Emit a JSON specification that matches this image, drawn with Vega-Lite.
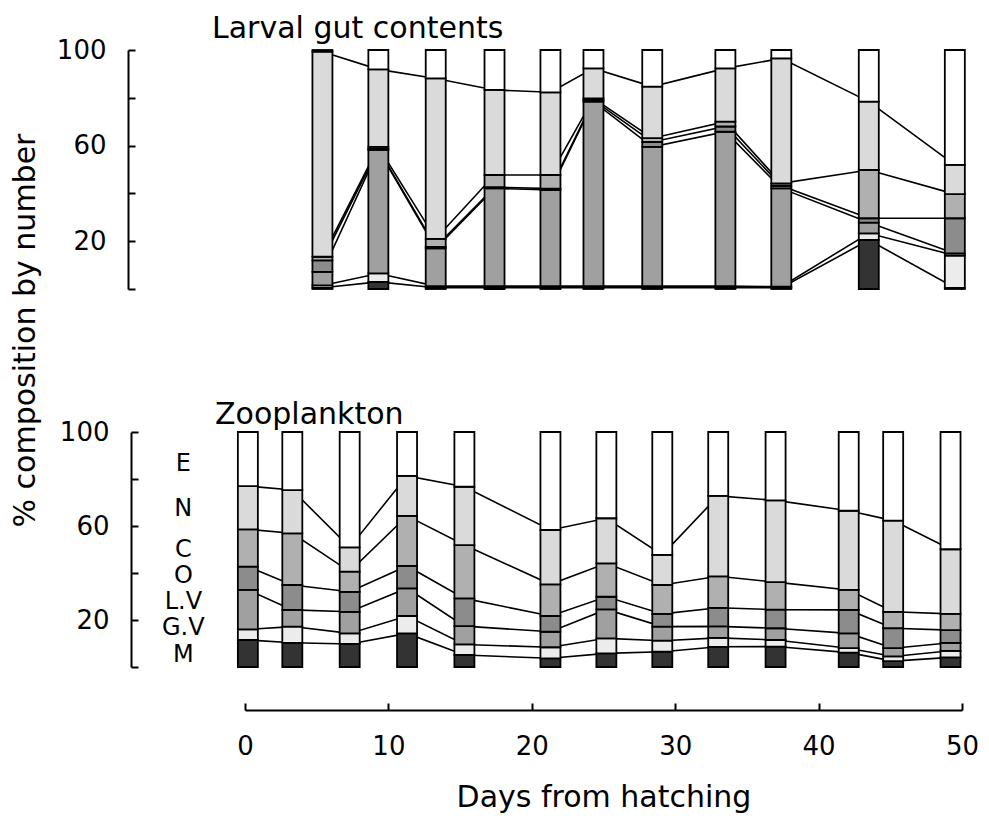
{
  "$schema": "https://vega.github.io/schema/vega-lite/v6.json",
  "background": "white",
  "padding": {"left": 10, "top": 14, "right": 20, "bottom": 5},
  "bounds": "flush",
  "spacing": 143,
  "config": {
    "font": "DejaVu Sans",
    "view": {"stroke": null},
    "axis": {
      "grid": false, "domainColor": "black", "domainWidth": 2, "tickColor": "black", "tickWidth": 2,
      "labelColor": "black", "titleColor": "black", "labelFont": "DejaVu Sans", "labelFontSize": 26,
      "titleFont": "DejaVu Sans", "titleFontSize": 30, "titleFontWeight": "normal"
    }
  },
  "datasets": {
    "gut": [
      {"day": 5.4, "cat": "M", "lo": 0, "hi": 0.5}, {"day": 5.4, "cat": "GV", "lo": 0.5, "hi": 1.5}, {"day": 5.4, "cat": "LV", "lo": 1.5, "hi": 7.2}, {"day": 5.4, "cat": "O", "lo": 7.2, "hi": 12.0}, {"day": 5.4, "cat": "C", "lo": 12.0, "hi": 13.5}, {"day": 5.4, "cat": "N", "lo": 13.5, "hi": 99.3}, {"day": 5.4, "cat": "E", "lo": 99.3, "hi": 100},
      {"day": 9.3, "cat": "M", "lo": 0, "hi": 3.0}, {"day": 9.3, "cat": "GV", "lo": 3.0, "hi": 6.5}, {"day": 9.3, "cat": "LV", "lo": 6.5, "hi": 58.2}, {"day": 9.3, "cat": "O", "lo": 58.2, "hi": 58.6}, {"day": 9.3, "cat": "C", "lo": 58.6, "hi": 59.5}, {"day": 9.3, "cat": "N", "lo": 59.5, "hi": 91.9}, {"day": 9.3, "cat": "E", "lo": 91.9, "hi": 100},
      {"day": 13.3, "cat": "M", "lo": 0, "hi": 0.5}, {"day": 13.3, "cat": "GV", "lo": 0.5, "hi": 1.2}, {"day": 13.3, "cat": "LV", "lo": 1.2, "hi": 17.0}, {"day": 13.3, "cat": "O", "lo": 17.0, "hi": 17.6}, {"day": 13.3, "cat": "C", "lo": 17.6, "hi": 21.0}, {"day": 13.3, "cat": "N", "lo": 21.0, "hi": 88.1}, {"day": 13.3, "cat": "E", "lo": 88.1, "hi": 100},
      {"day": 17.4, "cat": "M", "lo": 0, "hi": 0.5}, {"day": 17.4, "cat": "GV", "lo": 0.5, "hi": 1.2}, {"day": 17.4, "cat": "LV", "lo": 1.2, "hi": 42.1}, {"day": 17.4, "cat": "O", "lo": 42.1, "hi": 42.6}, {"day": 17.4, "cat": "C", "lo": 42.6, "hi": 47.7}, {"day": 17.4, "cat": "N", "lo": 47.7, "hi": 83.3}, {"day": 17.4, "cat": "E", "lo": 83.3, "hi": 100},
      {"day": 21.3, "cat": "M", "lo": 0, "hi": 0.5}, {"day": 21.3, "cat": "GV", "lo": 0.5, "hi": 1.2}, {"day": 21.3, "cat": "LV", "lo": 1.2, "hi": 41.4}, {"day": 21.3, "cat": "O", "lo": 41.4, "hi": 42.0}, {"day": 21.3, "cat": "C", "lo": 42.0, "hi": 47.7}, {"day": 21.3, "cat": "N", "lo": 47.7, "hi": 82.3}, {"day": 21.3, "cat": "E", "lo": 82.3, "hi": 100},
      {"day": 24.3, "cat": "M", "lo": 0, "hi": 0.5}, {"day": 24.3, "cat": "GV", "lo": 0.5, "hi": 1.2}, {"day": 24.3, "cat": "LV", "lo": 1.2, "hi": 78.4}, {"day": 24.3, "cat": "O", "lo": 78.4, "hi": 79.0}, {"day": 24.3, "cat": "C", "lo": 79.0, "hi": 79.8}, {"day": 24.3, "cat": "N", "lo": 79.8, "hi": 92.3}, {"day": 24.3, "cat": "E", "lo": 92.3, "hi": 100},
      {"day": 28.4, "cat": "M", "lo": 0, "hi": 0.5}, {"day": 28.4, "cat": "GV", "lo": 0.5, "hi": 1.2}, {"day": 28.4, "cat": "LV", "lo": 1.2, "hi": 59.5}, {"day": 28.4, "cat": "O", "lo": 59.5, "hi": 61.5}, {"day": 28.4, "cat": "C", "lo": 61.5, "hi": 63.1}, {"day": 28.4, "cat": "N", "lo": 63.1, "hi": 84.7}, {"day": 28.4, "cat": "E", "lo": 84.7, "hi": 100},
      {"day": 33.5, "cat": "M", "lo": 0, "hi": 0.5}, {"day": 33.5, "cat": "GV", "lo": 0.5, "hi": 1.2}, {"day": 33.5, "cat": "LV", "lo": 1.2, "hi": 65.8}, {"day": 33.5, "cat": "O", "lo": 65.8, "hi": 68.0}, {"day": 33.5, "cat": "C", "lo": 68.0, "hi": 70.0}, {"day": 33.5, "cat": "N", "lo": 70.0, "hi": 92.3}, {"day": 33.5, "cat": "E", "lo": 92.3, "hi": 100},
      {"day": 37.4, "cat": "M", "lo": 0, "hi": 0.5}, {"day": 37.4, "cat": "GV", "lo": 0.5, "hi": 1.0}, {"day": 37.4, "cat": "LV", "lo": 1.0, "hi": 42.1}, {"day": 37.4, "cat": "O", "lo": 42.1, "hi": 43.2}, {"day": 37.4, "cat": "C", "lo": 43.2, "hi": 44.2}, {"day": 37.4, "cat": "N", "lo": 44.2, "hi": 96.5}, {"day": 37.4, "cat": "E", "lo": 96.5, "hi": 100},
      {"day": 43.5, "cat": "M", "lo": 0, "hi": 20.5}, {"day": 43.5, "cat": "GV", "lo": 20.5, "hi": 23.3}, {"day": 43.5, "cat": "LV", "lo": 23.3, "hi": 27.8}, {"day": 43.5, "cat": "O", "lo": 27.8, "hi": 29.6}, {"day": 43.5, "cat": "C", "lo": 29.6, "hi": 49.8}, {"day": 43.5, "cat": "N", "lo": 49.8, "hi": 78.4}, {"day": 43.5, "cat": "E", "lo": 78.4, "hi": 100},
      {"day": 49.5, "cat": "M", "lo": 0, "hi": 0.5}, {"day": 49.5, "cat": "GV", "lo": 0.5, "hi": 14.0}, {"day": 49.5, "cat": "LV", "lo": 14.0, "hi": 14.9}, {"day": 49.5, "cat": "O", "lo": 14.9, "hi": 29.6}, {"day": 49.5, "cat": "C", "lo": 29.6, "hi": 39.7}, {"day": 49.5, "cat": "N", "lo": 39.7, "hi": 51.9}, {"day": 49.5, "cat": "E", "lo": 51.9, "hi": 100}
    ],
    "zoo": [
      {"day": 0.2, "cat": "M", "lo": 0, "hi": 11.5}, {"day": 0.2, "cat": "GV", "lo": 11.5, "hi": 16.0}, {"day": 0.2, "cat": "LV", "lo": 16.0, "hi": 32.8}, {"day": 0.2, "cat": "O", "lo": 32.8, "hi": 42.7}, {"day": 0.2, "cat": "C", "lo": 42.7, "hi": 58.6}, {"day": 0.2, "cat": "N", "lo": 58.6, "hi": 77.0}, {"day": 0.2, "cat": "E", "lo": 77.0, "hi": 100},
      {"day": 3.3, "cat": "M", "lo": 0, "hi": 10.3}, {"day": 3.3, "cat": "GV", "lo": 10.3, "hi": 17.2}, {"day": 3.3, "cat": "LV", "lo": 17.2, "hi": 24.3}, {"day": 3.3, "cat": "O", "lo": 24.3, "hi": 34.9}, {"day": 3.3, "cat": "C", "lo": 34.9, "hi": 56.9}, {"day": 3.3, "cat": "N", "lo": 56.9, "hi": 75.3}, {"day": 3.3, "cat": "E", "lo": 75.3, "hi": 100},
      {"day": 7.3, "cat": "M", "lo": 0, "hi": 9.8}, {"day": 7.3, "cat": "GV", "lo": 9.8, "hi": 14.3}, {"day": 7.3, "cat": "LV", "lo": 14.3, "hi": 23.5}, {"day": 7.3, "cat": "O", "lo": 23.5, "hi": 32.0}, {"day": 7.3, "cat": "C", "lo": 32.0, "hi": 40.6}, {"day": 7.3, "cat": "N", "lo": 40.6, "hi": 50.9}, {"day": 7.3, "cat": "E", "lo": 50.9, "hi": 100},
      {"day": 11.3, "cat": "M", "lo": 0, "hi": 14.3}, {"day": 11.3, "cat": "GV", "lo": 14.3, "hi": 21.7}, {"day": 11.3, "cat": "LV", "lo": 21.7, "hi": 33.5}, {"day": 11.3, "cat": "O", "lo": 33.5, "hi": 43.0}, {"day": 11.3, "cat": "C", "lo": 43.0, "hi": 64.3}, {"day": 11.3, "cat": "N", "lo": 64.3, "hi": 81.3}, {"day": 11.3, "cat": "E", "lo": 81.3, "hi": 100},
      {"day": 15.3, "cat": "M", "lo": 0, "hi": 5.1}, {"day": 15.3, "cat": "GV", "lo": 5.1, "hi": 9.6}, {"day": 15.3, "cat": "LV", "lo": 9.6, "hi": 17.4}, {"day": 15.3, "cat": "O", "lo": 17.4, "hi": 29.2}, {"day": 15.3, "cat": "C", "lo": 29.2, "hi": 51.9}, {"day": 15.3, "cat": "N", "lo": 51.9, "hi": 76.7}, {"day": 15.3, "cat": "E", "lo": 76.7, "hi": 100},
      {"day": 21.3, "cat": "M", "lo": 0, "hi": 3.7}, {"day": 21.3, "cat": "GV", "lo": 3.7, "hi": 8.4}, {"day": 21.3, "cat": "LV", "lo": 8.4, "hi": 15.0}, {"day": 21.3, "cat": "O", "lo": 15.0, "hi": 21.7}, {"day": 21.3, "cat": "C", "lo": 21.7, "hi": 35.2}, {"day": 21.3, "cat": "N", "lo": 35.2, "hi": 58.3}, {"day": 21.3, "cat": "E", "lo": 58.3, "hi": 100},
      {"day": 25.2, "cat": "M", "lo": 0, "hi": 5.8}, {"day": 25.2, "cat": "GV", "lo": 5.8, "hi": 12.2}, {"day": 25.2, "cat": "LV", "lo": 12.2, "hi": 24.5}, {"day": 25.2, "cat": "O", "lo": 24.5, "hi": 29.9}, {"day": 25.2, "cat": "C", "lo": 29.9, "hi": 44.1}, {"day": 25.2, "cat": "N", "lo": 44.1, "hi": 63.3}, {"day": 25.2, "cat": "E", "lo": 63.3, "hi": 100},
      {"day": 29.1, "cat": "M", "lo": 0, "hi": 6.5}, {"day": 29.1, "cat": "GV", "lo": 6.5, "hi": 11.2}, {"day": 29.1, "cat": "LV", "lo": 11.2, "hi": 17.2}, {"day": 29.1, "cat": "O", "lo": 17.2, "hi": 22.6}, {"day": 29.1, "cat": "C", "lo": 22.6, "hi": 34.9}, {"day": 29.1, "cat": "N", "lo": 34.9, "hi": 47.7}, {"day": 29.1, "cat": "E", "lo": 47.7, "hi": 100},
      {"day": 33.0, "cat": "M", "lo": 0, "hi": 8.6}, {"day": 33.0, "cat": "GV", "lo": 8.6, "hi": 12.4}, {"day": 33.0, "cat": "LV", "lo": 12.4, "hi": 17.3}, {"day": 33.0, "cat": "O", "lo": 17.3, "hi": 25.2}, {"day": 33.0, "cat": "C", "lo": 25.2, "hi": 38.6}, {"day": 33.0, "cat": "N", "lo": 38.6, "hi": 72.8}, {"day": 33.0, "cat": "E", "lo": 72.8, "hi": 100},
      {"day": 37.0, "cat": "M", "lo": 0, "hi": 8.7}, {"day": 37.0, "cat": "GV", "lo": 8.7, "hi": 11.5}, {"day": 37.0, "cat": "LV", "lo": 11.5, "hi": 16.5}, {"day": 37.0, "cat": "O", "lo": 16.5, "hi": 24.4}, {"day": 37.0, "cat": "C", "lo": 24.4, "hi": 36.1}, {"day": 37.0, "cat": "N", "lo": 36.1, "hi": 70.9}, {"day": 37.0, "cat": "E", "lo": 70.9, "hi": 100},
      {"day": 42.1, "cat": "M", "lo": 0, "hi": 6.1}, {"day": 42.1, "cat": "GV", "lo": 6.1, "hi": 8.0}, {"day": 42.1, "cat": "LV", "lo": 8.0, "hi": 14.3}, {"day": 42.1, "cat": "O", "lo": 14.3, "hi": 24.3}, {"day": 42.1, "cat": "C", "lo": 24.3, "hi": 32.8}, {"day": 42.1, "cat": "N", "lo": 32.8, "hi": 66.5}, {"day": 42.1, "cat": "E", "lo": 66.5, "hi": 100},
      {"day": 45.2, "cat": "M", "lo": 0, "hi": 2.5}, {"day": 45.2, "cat": "GV", "lo": 2.5, "hi": 4.5}, {"day": 45.2, "cat": "LV", "lo": 4.5, "hi": 8.0}, {"day": 45.2, "cat": "O", "lo": 8.0, "hi": 16.5}, {"day": 45.2, "cat": "C", "lo": 16.5, "hi": 23.5}, {"day": 45.2, "cat": "N", "lo": 23.5, "hi": 62.3}, {"day": 45.2, "cat": "E", "lo": 62.3, "hi": 100},
      {"day": 49.2, "cat": "M", "lo": 0, "hi": 4.1}, {"day": 49.2, "cat": "GV", "lo": 4.1, "hi": 6.9}, {"day": 49.2, "cat": "LV", "lo": 6.9, "hi": 10.3}, {"day": 49.2, "cat": "O", "lo": 10.3, "hi": 15.7}, {"day": 49.2, "cat": "C", "lo": 15.7, "hi": 22.6}, {"day": 49.2, "cat": "N", "lo": 22.6, "hi": 50.1}, {"day": 49.2, "cat": "E", "lo": 50.1, "hi": 100}
    ],
    "labels": [
      {"lab": "E", "day": -4.3, "v": 86.4}, {"lab": "N", "day": -4.3, "v": 67.2}, {"lab": "C", "day": -4.3, "v": 49.8},
      {"lab": "O", "day": -4.3, "v": 38.8}, {"lab": "L.V", "day": -4.3, "v": 27.8}, {"lab": "G.V", "day": -4.3, "v": 16.4}, {"lab": "M", "day": -4.3, "v": 5.0}
    ]
  },
  "vconcat": [
    {
      "width": 717,
      "height": 239,
      "title": {"text": "Larval gut contents", "anchor": "start", "frame": "group", "dx": -33, "offset": -7, "fontSize": 30, "fontWeight": "normal", "font": "DejaVu Sans", "color": "black"},
      "data": {"name": "gut"},
      "layer": [
        {
          "transform": [{"filter": "datum.cat !== 'E'"}],
          "mark": {"type": "line", "color": "black", "strokeWidth": 1.6},
          "encoding": {
            "x": {"field": "day", "type": "quantitative", "scale": {"domain": [0, 50], "padding": 0, "nice": false}, "axis": null},
            "y": {"field": "hi", "type": "quantitative", "scale": {"domain": [0, 100]},
                  "axis": {"values": [0, 20, 40, 60, 80, 100], "labelExpr": "datum.value % 40 == 20 ? datum.label : ''",
                           "offset": 117, "tickSize": -7, "labelPadding": 29, "title": "% composition by number",
                           "titleX": -103, "titleY": 280, "titleAlign": "center", "titleBaseline": "middle", "titleAngle": -90}},
            "detail": {"field": "cat"}
          }
        },
        {
          "mark": {"type": "bar", "size": 20, "stroke": "black", "strokeWidth": 1.8, "orient": "vertical"},
          "encoding": {
            "x": {"field": "day", "type": "quantitative"},
            "y": {"field": "hi", "type": "quantitative"},
            "y2": {"field": "lo"},
            "fill": {"field": "cat", "type": "nominal", "legend": null,
                     "scale": {"domain": ["E", "N", "C", "O", "LV", "GV", "M"], "range": ["#ffffff", "#dadada", "#b0b0b0", "#8c8c8c", "#a0a0a0", "#ececec", "#333333"]}}
          }
        }
      ]
    },
    {
      "width": 717,
      "height": 235,
      "title": {"text": "Zooplankton", "anchor": "start", "frame": "group", "dx": -30, "offset": -11, "fontSize": 30, "fontWeight": "normal", "font": "DejaVu Sans", "color": "black"},
      "layer": [
        {
          "data": {"name": "zoo"},
          "transform": [{"filter": "datum.cat !== 'E'"}],
          "mark": {"type": "line", "color": "black", "strokeWidth": 1.6},
          "encoding": {
            "x": {"field": "day", "type": "quantitative", "scale": {"domain": [0, 50], "padding": 0, "nice": false},
                  "axis": {"values": [0, 10, 20, 30, 40, 50], "offset": 43, "tickSize": -7, "labelPadding": 30, "labelFlush": false,
                           "title": "Days from hatching", "titlePadding": 23}},
            "y": {"field": "hi", "type": "quantitative", "scale": {"domain": [0, 100]},
                  "axis": {"values": [0, 20, 40, 60, 80, 100], "labelExpr": "datum.value % 40 == 20 ? datum.label : ''",
                           "offset": 114, "tickSize": -7, "labelPadding": 29, "title": null}},
            "detail": {"field": "cat"}
          }
        },
        {
          "data": {"name": "zoo"},
          "mark": {"type": "bar", "size": 20, "stroke": "black", "strokeWidth": 1.8, "orient": "vertical"},
          "encoding": {
            "x": {"field": "day", "type": "quantitative"},
            "y": {"field": "hi", "type": "quantitative"},
            "y2": {"field": "lo"},
            "fill": {"field": "cat", "type": "nominal", "legend": null}
          }
        },
        {
          "data": {"name": "labels"},
          "mark": {"type": "text", "fontSize": 24, "align": "center", "baseline": "middle", "color": "black", "font": "DejaVu Sans"},
          "encoding": {
            "x": {"field": "day", "type": "quantitative"},
            "y": {"field": "v", "type": "quantitative"},
            "text": {"field": "lab"}
          }
        }
      ]
    }
  ]
}
